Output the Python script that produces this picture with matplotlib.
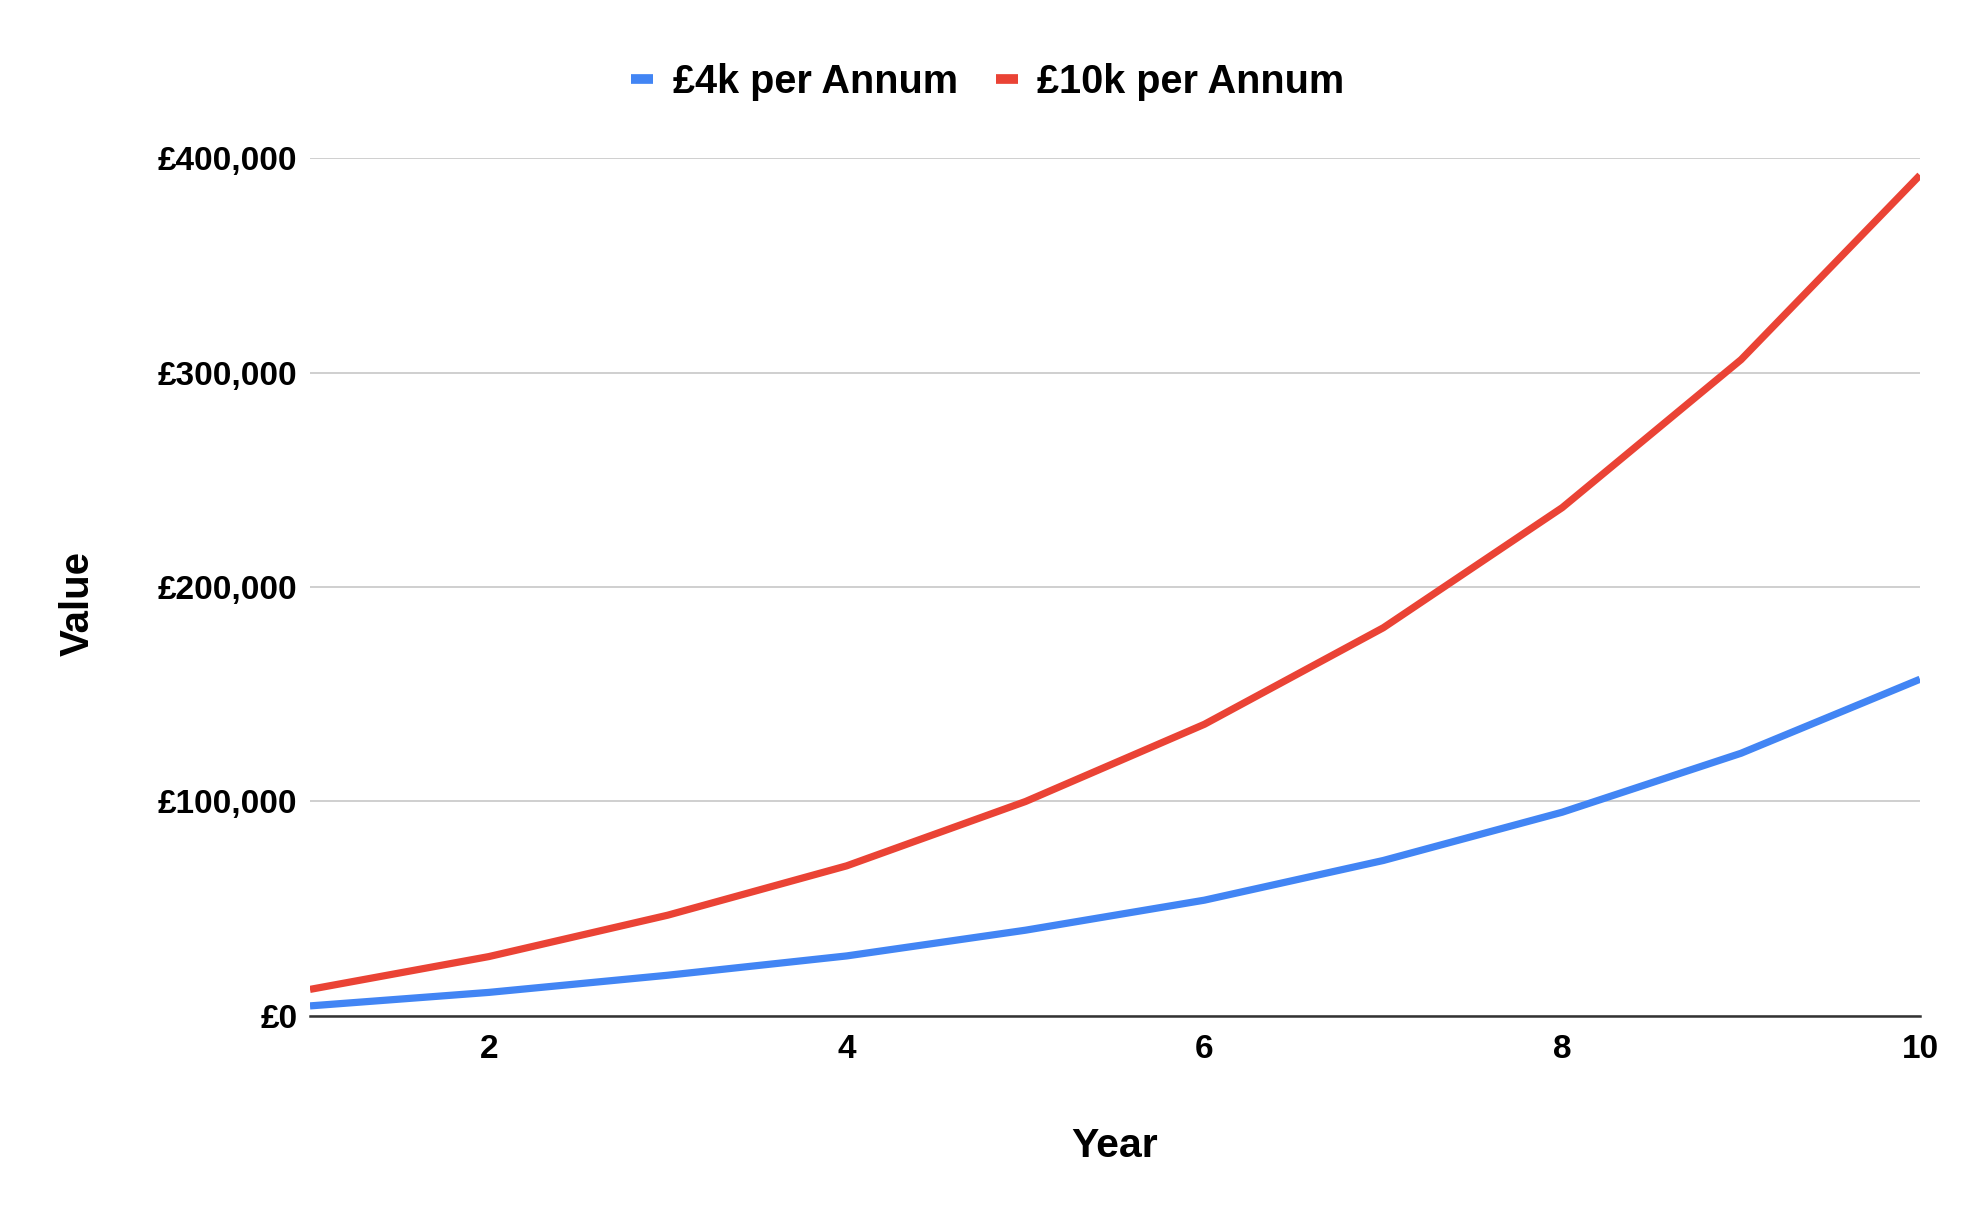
import matplotlib
matplotlib.use('Agg')
import matplotlib.pyplot as plt
from matplotlib.ticker import FuncFormatter

# values
years = [1, 2, 3, 4, 5, 6, 7, 8, 9, 10]
value_4k = [4700, 11000, 19000, 28000, 40000, 54000, 72500, 95000, 122500, 157000]
value_10k = [12400, 27700, 47000, 70000, 100000, 136000, 181000, 237000, 306000, 392000]
series_names = ['£4k per Annum', '£10k per Annum']
x_ticks = [2, 4, 6, 8, 10]
y_ticks = [0, 100000, 200000, 300000, 400000]

BLUE = '#4285F4'
RED = '#EA4335'

plt.rcParams['font.family'] = ['Liberation Sans', 'DejaVu Sans']

fig = plt.figure(figsize=(19.82, 12.26), dpi=100)
ax = fig.add_axes([0.1564, 0.1713, 0.8123, 0.6998])

ax.plot(years, value_4k, color=BLUE, lw=5.2, label=series_names[0], solid_capstyle='butt')
ax.plot(years, value_10k, color=RED, lw=5.2, label=series_names[1], solid_capstyle='butt')

ax.set_xlim(1, 10)
ax.set_ylim(0, 400000)
ax.set_xticks(x_ticks)
ax.set_yticks(y_ticks)
ax.yaxis.set_major_formatter(FuncFormatter(lambda v, p: f'£{int(v):,}'))
ax.tick_params(axis='y', length=0, labelsize=24, pad=9)
ax.tick_params(axis='x', length=0, labelsize=24, pad=13)
for lab in ax.get_xticklabels() + ax.get_yticklabels():
    lab.set_fontweight('bold')

ax.grid(axis='y', color='#cccccc', lw=1.3)
ax.set_axisbelow(True)
for s in ['top', 'right', 'left']:
    ax.spines[s].set_visible(False)
ax.spines['bottom'].set_color('#333333')
ax.spines['bottom'].set_linewidth(1.8)
ax.spines['bottom'].set_zorder(3)

fig.text(0.5625, 1 - 1146 / 1226, 'Year', ha='center', va='center',
         fontsize=29.5, fontweight='bold')
fig.text(78 / 1982, 1 - 603 / 1226, 'Value', ha='center', va='center',
         rotation=90, fontsize=29, fontweight='bold')

fig.legend(loc='center', bbox_to_anchor=(0.4985, 1 - 82 / 1226), ncol=2,
           frameon=False, prop={'size': 28.5, 'weight': 'bold'},
           handlelength=0.55, handletextpad=0.5, columnspacing=0.95)
for h in fig.legends[0].legend_handles:
    h.set_linewidth(7)

fig.savefig('out.png', dpi=100)
